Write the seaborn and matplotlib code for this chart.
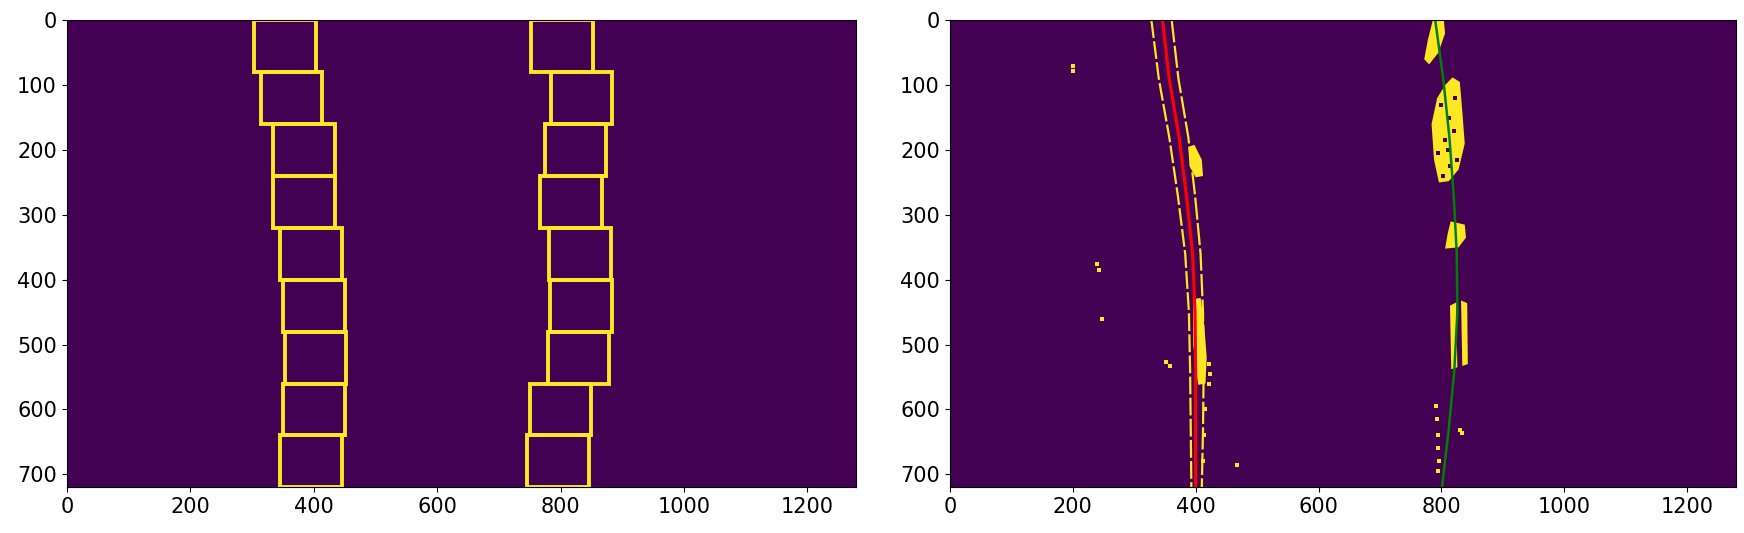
import numpy as np
import matplotlib
matplotlib.use('Agg')
import matplotlib.pyplot as plt
from matplotlib.patches import Rectangle
import seaborn as sns

IMG_W, IMG_H = 1280, 720
n_windows = 9
win_h = IMG_H // n_windows
margin = 50

# sliding window centres, bottom window first
left_win_x = [395, 400, 403, 400, 395, 384, 384, 364, 353]
right_win_x = [796, 800, 829, 833, 832, 817, 824, 834, 802]

# fitted lane lines
fit_y = [0, 90, 180, 270, 360, 450, 540, 630, 720]
left_fit_x = [346, 357, 373, 385, 395, 399, 400, 400, 400]
right_fit_x = [790, 803, 813, 820, 825, 826, 821, 812, 801]

# edges of the left lane marking
left_edge_in = [328, 340, 357, 371, 383, 389, 391, 392, 393]
left_edge_out = [361, 372, 388, 399, 408, 412, 413, 412, 410]

# blobs of lane pixels (x list, y list)
blob_left_a = ([388, 398, 410, 412, 400, 390], [195, 192, 215, 240, 242, 225])
blob_left_b = ([396, 408, 414, 418, 416, 404, 396], [430, 428, 470, 520, 560, 562, 500])
blob_right_1 = ([786, 804, 806, 795, 780, 772, 778], [0, 0, 20, 50, 68, 60, 30])
blob_right_2 = ([818, 830, 834, 838, 828, 812, 796, 788, 784, 793, 806],
                [88, 95, 140, 190, 230, 248, 250, 215, 160, 120, 100])
blob_right_3 = ([815, 838, 840, 828, 806, 810], [310, 315, 335, 350, 352, 330])
blob_right_4 = ([814, 824, 826, 816], [440, 435, 535, 538])
blob_right_5 = ([832, 842, 843, 834], [432, 436, 530, 533])

# purple gaps inside the right lane blobs
holes_x = [800, 812, 806, 820, 795, 826, 814, 802, 822, 810]
holes_y = [130, 150, 185, 170, 205, 215, 225, 240, 120, 200]

# single stray pixels
dots_x = [200, 201, 240, 243, 248, 352, 358, 467, 422, 424, 421, 416, 414, 412,
          792, 793, 794, 795, 796, 794, 830, 834]
dots_y = [70, 78, 375, 385, 461, 527, 533, 686, 530, 545, 560, 600, 640, 680,
          595, 615, 640, 660, 680, 695, 632, 636]

yellow = plt.cm.viridis(1.0)
purple = plt.cm.viridis(0.0)

fig = plt.figure(figsize=(17.44, 5.33), dpi=100)
ax1 = fig.add_axes([0.0382, 0.0863, 0.4529, 0.8762])
ax2 = fig.add_axes([0.5445, 0.0863, 0.4509, 0.8762])

background = np.zeros((IMG_H, IMG_W))
for ax in (ax1, ax2):
    ax.imshow(background, cmap='viridis', vmin=0, vmax=1, aspect='auto')

# left: search windows
for i, (lx, rx) in enumerate(zip(left_win_x, right_win_x)):
    y_low = IMG_H - (i + 1) * win_h
    for cx in (lx, rx):
        ax1.add_patch(Rectangle((cx - margin, y_low), 2 * margin, win_h,
                                fill=False, edgecolor=yellow, lw=2.8))

# right: lane pixels + polynomial fits
for bx, by in (blob_left_a, blob_left_b, blob_right_1, blob_right_2,
               blob_right_3, blob_right_4, blob_right_5):
    ax2.fill(bx, by, color=yellow, lw=0)
sns.scatterplot(x=holes_x, y=holes_y, marker='s', s=10, color=purple, linewidth=0, ax=ax2)

sns.lineplot(x=left_edge_in, y=fit_y, orient='y', estimator=None, color=yellow,
             lw=1.6, dashes=(8, 1.5), ax=ax2)
sns.lineplot(x=left_edge_out, y=fit_y, orient='y', estimator=None, color=yellow,
             lw=1.6, dashes=(10, 1.5), ax=ax2)
sns.scatterplot(x=dots_x, y=dots_y, marker='s', s=5, color=yellow, linewidth=0, ax=ax2)

sns.lineplot(x=left_fit_x, y=fit_y, orient='y', estimator=None, color='red', lw=2.2, ax=ax2)
sns.lineplot(x=right_fit_x, y=fit_y, orient='y', estimator=None, color='green', lw=1.8, ax=ax2)

for ax in (ax1, ax2):
    ax.set_xlim(-0.5, IMG_W - 0.5)
    ax.set_ylim(IMG_H - 0.5, -0.5)
    ax.set_xticks(range(0, 1201, 200))
    ax.set_yticks(range(0, 701, 100))
    ax.tick_params(labelsize=15)
    ax.set_xlabel('')
    ax.set_ylabel('')

fig.savefig('out.png', dpi=100)
